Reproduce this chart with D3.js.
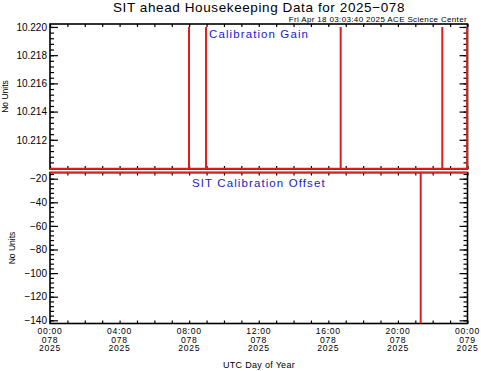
<!DOCTYPE html>
<html>
<head>
<meta charset="utf-8">
<script src="https://cdn.jsdelivr.net/npm/d3@7/dist/d3.min.js"></script>
<style>
  html, body { margin: 0; padding: 0; background: #fff; }
  svg text { font-family: "Liberation Sans", Arial, sans-serif; fill: #000; }
</style>
</head>
<body>
<div id="chart"></div>
<script>
// SIT ahead housekeeping, day 2025-078 (19 Mar 2025)
const DAY_START = Date.UTC(2025, 2, 19);
const TITLE  = 'SIT ahead Housekeeping Data for 2025\u2212078';
const STAMP  = 'Fri Apr 18 03:03:40 2025 ACE Science Center';
const XLABEL = 'UTC Day of Year';
const YLABEL = 'No Units';

// hours of day + values
const gainHours    = [0, 7.99, 7.99, 7.99, 8.97, 8.97, 8.97, 16.71, 16.71, 16.71, 22.55, 22.55, 22.55, 23.98, 23.98, 23.98, 24];
const gainValues   = [10.20995, 10.20995, 10.2200, 10.20995, 10.20995, 10.2200, 10.20995, 10.20995, 10.2200, 10.20995, 10.20995, 10.2200, 10.20995, 10.20995, 10.2200, 10.20995, 10.20995];
const offsetHours  = [0, 21.31, 21.31, 21.31, 24];
const offsetValues = [-14.75, -14.75, -142.7, -14.75, -14.75];

const gainTicks   = [10.212, 10.214, 10.216, 10.218, 10.220];
const offsetTicks = [-140, -120, -100, -80, -60, -40, -20];
const xTickHours  = [0, 4, 8, 12, 16, 20, 24];

const W = 481, H = 371;
const X0 = 50, X1 = 467.5;
const RED = '#dd1c1c';

const svg = d3.select('#chart').append('svg').attr('width', W).attr('height', H);

const hourDate = h => new Date(DAY_START + h * 3600e3);
const x = d3.scaleUtc().domain([hourDate(0), hourDate(24)]).range([X0, X1]);

svg.append('text').attr('x', 259).attr('y', 12).attr('text-anchor', 'middle')
  .style('font-size', '13.5px').style('letter-spacing', '0.6px').text(TITLE);
svg.append('text').attr('x', 467).attr('y', 22).attr('text-anchor', 'end')
  .style('font-size', '8px').style('letter-spacing', '0.35px').text(STAMP);

function panel(o) {
  const y = d3.scaleLinear().domain(o.domain).range([o.bottom, o.top]);
  const g = svg.append('g');
  const id = 'clip' + Math.round(o.top);
  svg.append('clipPath').attr('id', id).append('rect')
    .attr('x', X0 - 1).attr('y', o.top - 1).attr('width', X1 - X0 + 2).attr('height', o.bottom - o.top + 2);

  const minors = d3.range(Math.ceil(o.domain[0] / o.minor) * o.minor, o.domain[1], o.minor);
  const xMinors = d3.range(0, 25).map(hourDate);

  // y ticks, both sides, pointing in
  g.append('g').attr('transform', `translate(${X0},0)`)
    .call(d3.axisLeft(y).tickValues(minors).tickSize(-4).tickSizeOuter(0).tickFormat(''));
  g.append('g').attr('transform', `translate(${X1},0)`)
    .call(d3.axisRight(y).tickValues(minors).tickSize(-4).tickSizeOuter(0).tickFormat(''));
  g.append('g').attr('transform', `translate(${X1},0)`)
    .call(d3.axisRight(y).tickValues(o.ticks).tickSize(-8).tickSizeOuter(0).tickFormat(''));
  g.append('g').attr('class', 'ylab').attr('transform', `translate(${X0},0)`)
    .call(d3.axisLeft(y).tickValues(o.ticks).tickSize(-8).tickSizeOuter(0).tickPadding(3).tickFormat(d3.format(o.fmt)));

  // x ticks top and bottom
  g.append('g').attr('transform', `translate(0,${o.top})`)
    .call(d3.axisTop(x).tickValues(xMinors).tickSize(-3).tickSizeOuter(0).tickFormat(''));
  g.append('g').attr('transform', `translate(0,${o.bottom})`)
    .call(d3.axisBottom(x).tickValues(xMinors).tickSize(-3).tickSizeOuter(0).tickFormat(''));

  g.selectAll('.domain').remove();
  g.selectAll('.tick line').attr('stroke', '#000').attr('stroke-width', 1.2);
  g.selectAll('.ylab text').style('font-size', '10px').attr('fill', '#000');

  g.append('rect').attr('x', X0).attr('y', o.top).attr('width', X1 - X0).attr('height', o.bottom - o.top)
    .attr('fill', 'none').attr('stroke', '#000').attr('stroke-width', 1.6);

  const pts = o.hours.map((h, i) => [hourDate(h), o.values[i]]);
  svg.append('path').datum(pts)
    .attr('clip-path', `url(#${id})`)
    .attr('fill', 'none').attr('stroke', RED).attr('stroke-width', 2)
    .attr('d', d3.line().x(d => x(d[0])).y(d => y(d[1])));

  svg.append('text').attr('x', o.labelX).attr('y', o.top + 14)
    .style('font-size', '11.5px').style('letter-spacing', '1.1px')
    .style('fill', '#1a1acc').text(o.label);

  svg.append('text').attr('transform', `translate(${o.ylabX},${(o.top + o.bottom) / 2}) rotate(-90)`)
    .attr('text-anchor', 'middle').attr('dy', '0.35em').style('font-size', '8.5px').text(YLABEL);
  return y;
}

panel({ top: 24, bottom: 169, domain: [10.20993, 10.22021], ticks: gainTicks, minor: 0.0004,
        fmt: '.3f', hours: gainHours, values: gainValues, label: 'Calibration Gain', labelX: 209, ylabX: 5 });
panel({ top: 172.5, bottom: 323.5, domain: [-142.7, -14.75], ticks: offsetTicks, minor: 4,
        fmt: 'd', hours: offsetHours, values: offsetValues, label: 'SIT Calibration Offset', labelX: 192, ylabX: 12 });

// three-row x tick labels under the lower panel
const fH = d3.utcFormat('%H:%M'), fJ = d3.utcFormat('%j'), fY = d3.utcFormat('%Y');
const rows = [[fH, 333.8], [fJ, 342.6], [fY, 351.4]];
rows.forEach(([f, yy]) => {
  svg.append('g').selectAll('text').data(xTickHours.map(hourDate)).join('text')
    .attr('x', d => x(d)).attr('y', yy).attr('text-anchor', 'middle')
    .style('font-size', '8.6px').style('letter-spacing', '0.7px').text(f);
});

svg.append('text').attr('x', 259).attr('y', 368).attr('text-anchor', 'middle')
  .style('font-size', '9px').style('letter-spacing', '0.3px').text(XLABEL);
</script>
</body>
</html>
